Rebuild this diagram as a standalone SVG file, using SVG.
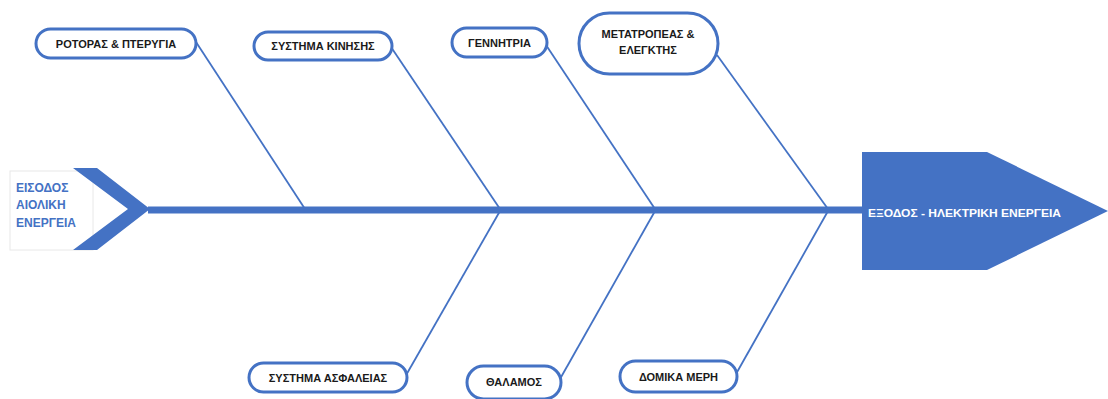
<svg xmlns="http://www.w3.org/2000/svg" width="1108" height="399" viewBox="0 0 1108 399">
  <style>
    .bone { stroke: #4472C4; stroke-width: 1.8; fill: none; }
    .cat rect { fill: #ffffff; stroke: #4472C4; stroke-width: 3; }
    .cat text { font-family: "Liberation Sans", Arial, sans-serif; font-weight: bold; font-size: 11px; fill: #1a1a1a; text-anchor: middle; }
    .blue { fill: #4472C4; }
  </style>
  <rect width="1108" height="399" fill="#ffffff"/>

  <!-- connectors: spine and category bones -->
  <g id="connectors">
    <line x1="148" y1="210" x2="864" y2="210" stroke="#4472C4" stroke-width="7"/>
    <line class="bone" x1="196" y1="42" x2="305" y2="209"/>
    <line class="bone" x1="391" y1="47" x2="500" y2="209"/>
    <line class="bone" x1="500" y1="211" x2="405" y2="377"/>
    <line class="bone" x1="546" y1="45" x2="655" y2="209"/>
    <line class="bone" x1="655" y1="211" x2="560" y2="379"/>
    <line class="bone" x1="717" y1="55" x2="828" y2="209"/>
    <line class="bone" x1="828" y1="211" x2="736" y2="374"/>
  </g>

  <!-- input: wind energy -->
  <g id="input">
    <rect x="10" y="171" width="83" height="79" fill="#ffffff" stroke="#e8e8e8" stroke-width="1"/>
    <polygon class="blue" points="73,168 97,168 150,209 97,250 73,250 128,209"/>
    <g font-family="Liberation Sans, Arial, sans-serif" font-weight="bold" font-size="12" fill="#4472C4">
      <text x="16" y="192">ΕΙΣΟΔΟΣ</text>
      <text x="16" y="209">ΑΙΟΛΙΚΗ</text>
      <text x="16" y="227">ΕΝΕΡΓΕΙΑ</text>
    </g>
  </g>

  <!-- output: electrical energy -->
  <g id="output">
    <polygon class="blue" points="862,152 987,152 1108,211 987,270 862,270"/>
    <text x="868" y="217" font-family="Liberation Sans, Arial, sans-serif" font-weight="bold" font-size="11.5" fill="#ffffff" textLength="193" lengthAdjust="spacingAndGlyphs">ΕΞΟΔΟΣ - ΗΛΕΚΤΡΙΚΗ ΕΝΕΡΓΕΙΑ</text>
  </g>

  <!-- categories -->
  <g id="rotor" class="cat">
    <rect x="36" y="29" width="160" height="29" rx="14.5"/>
    <text x="116" y="48">ΡΟΤΟΡΑΣ &amp; ΠΤΕΡΥΓΙΑ</text>
  </g>
  <g id="drive" class="cat">
    <rect x="254" y="32" width="138" height="28" rx="14"/>
    <text x="323" y="50">ΣΥΣΤΗΜΑ ΚΙΝΗΣΗΣ</text>
  </g>
  <g id="generator" class="cat">
    <rect x="452" y="28" width="95" height="29" rx="14.5"/>
    <text x="499.5" y="47">ΓΕΝΝΗΤΡΙΑ</text>
  </g>
  <g id="converter" class="cat">
    <rect x="579" y="13" width="139" height="61" rx="30.5"/>
    <text x="648" y="38">ΜΕΤΑΤΡΟΠΕΑΣ &amp;</text>
    <text x="648" y="54">ΕΛΕΓΚΤΗΣ</text>
  </g>
  <g id="safety" class="cat">
    <rect x="249" y="363" width="158" height="29" rx="14.5"/>
    <text x="328" y="382">ΣΥΣΤΗΜΑ ΑΣΦΑΛΕΙΑΣ</text>
  </g>
  <g id="nacelle" class="cat">
    <rect x="467" y="366" width="94" height="33" rx="16.5"/>
    <text x="514" y="386">ΘΑΛΑΜΟΣ</text>
  </g>
  <g id="structure" class="cat">
    <rect x="620" y="361" width="117" height="31" rx="15.5"/>
    <text x="678.5" y="381">ΔΟΜΙΚΑ ΜΕΡΗ</text>
  </g>
</svg>
